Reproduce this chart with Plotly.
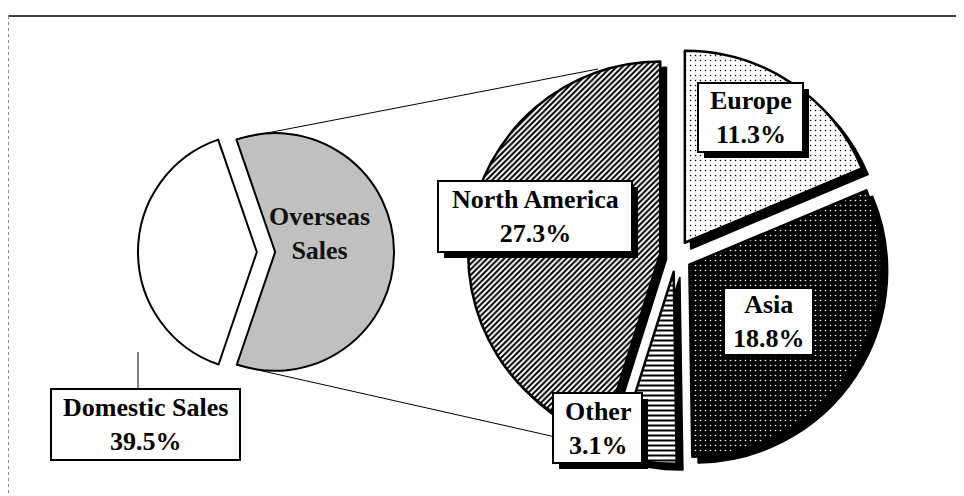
import plotly.graph_objects as go

W, H = 964, 496
OX, OY = 8, 8  # page offset of the plot div (default body margin)

# ---- data ----
main_labels = ["Overseas Sales", "Domestic Sales"]
main_values = [60.5, 39.5]
region_labels = ["Europe", "Asia", "Other", "North America"]
region_values = [11.3, 18.8, 3.1, 27.3]

# ---- styles ----
main_colors = ["#c0c0c0", "#ffffff"]
region_shapes = [".", ".", "-", "/"]
region_fg = ["#000000", "#ffffff", "#000000", "#000000"]
region_bg = ["#ffffff", "#000000", "#ffffff", "#ffffff"]
region_size = [5, 5, 5, 4]
region_solid = [0.07, 0.08, 0.4, 0.5]

FONT = "Liberation Serif"
FS = 26


def fx(x):
    return max(x - OX, 0.5) / W


def fy(y):
    return 1 - (y - OY) / H


left_dom = dict(x=[fx(138), fx(394)], y=[fy(380), fy(124)])
right_dom = dict(x=[fx(468), fx(884)], y=[fy(464), fy(48)])
SH = 6
right_dom_sh = dict(x=[fx(468 + SH), fx(884 + SH)], y=[fy(464 + SH), fy(48 + SH)])

fig = go.Figure()

# shadow for the right pie
fig.add_trace(go.Pie(
    labels=region_labels, values=region_values, sort=False,
    direction="clockwise", rotation=0, pull=0.083,
    domain=right_dom_sh, textinfo="none", hoverinfo="skip",
    marker=dict(colors=["#000000"] * len(region_values),
                line=dict(color="#000000", width=2)),
    showlegend=False,
))

# right pie (breakdown of overseas sales)
fig.add_trace(go.Pie(
    labels=region_labels, values=region_values, sort=False,
    direction="clockwise", rotation=0, pull=0.083,
    domain=right_dom, textinfo="none", hoverinfo="skip",
    marker=dict(
        colors=region_bg,
        line=dict(color="#000000", width=2.5),
        pattern=dict(shape=region_shapes, fgcolor=region_fg, bgcolor=region_bg,
                     size=region_size, solidity=region_solid, fillmode="replace"),
    ),
    showlegend=False,
))

# left pie (domestic vs overseas)
fig.add_trace(go.Pie(
    labels=main_labels, values=main_values, sort=False,
    direction="clockwise", rotation=-19, pull=0.077,
    domain=left_dom, textinfo="none", hoverinfo="skip",
    marker=dict(colors=main_colors, line=dict(color="#000000", width=2)),
    showlegend=False,
))

shapes = []
annotations = []

# frame
shapes.append(dict(type="line", xref="paper", yref="paper", x0=fx(6), x1=1.0,
                   y0=fy(16), y1=fy(16), line=dict(color="#000000", width=1.5), layer="above"))
shapes.append(dict(type="line", xref="paper", yref="paper", x0=fx(6), x1=fx(6),
                   y0=fy(16), y1=0, line=dict(color="#888888", width=1, dash="dot"), layer="above"))

# connector lines
shapes.append(dict(type="line", xref="paper", yref="paper", x0=fx(236), y0=fy(139),
                   x1=fx(598), y1=fy(69), line=dict(color="#000000", width=1), layer="above"))
shapes.append(dict(type="line", xref="paper", yref="paper", x0=fx(236), y0=fy(365),
                   x1=fx(600), y1=fy(447), line=dict(color="#000000", width=1), layer="above"))
shapes.append(dict(type="line", xref="paper", yref="paper", x0=fx(138), y0=fy(352),
                   x1=fx(138), y1=fy(389), line=dict(color="#000000", width=1), layer="above"))

# label boxes: (x0, y0, x1, y1, shadow)
all_labels = region_labels + ["Domestic Sales"]
all_values = region_values + [main_values[1]]
boxes = {
    "North America": (438, 181, 632, 252, True),
    "Europe": (698, 83, 803, 152, True),
    "Asia": (724, 288, 813, 355, False),
    "Other": (553, 393, 642, 463, True),
    "Domestic Sales": (51, 389, 240, 460, False),
}
for lab, val in zip(all_labels, all_values):
    x0, y0, x1, y1, sh = boxes[lab]
    if sh:
        shapes.append(dict(type="rect", xref="paper", yref="paper",
                           x0=fx(x0 + 6), x1=fx(x1 + 6), y0=fy(y1 + 6), y1=fy(y0 + 6),
                           fillcolor="#000000", line=dict(width=0), layer="above"))
    shapes.append(dict(type="rect", xref="paper", yref="paper",
                       x0=fx(x0), x1=fx(x1), y0=fy(y1), y1=fy(y0),
                       fillcolor="#ffffff", line=dict(color="#000000", width=2), layer="above"))
    annotations.append(dict(
        xref="paper", yref="paper", x=fx((x0 + x1) / 2), y=fy((y0 + y1) / 2),
        text=f"<b>{lab}<br>{val:.1f}%</b>", showarrow=False,
        xanchor="center", yanchor="middle",
        font=dict(family=FONT, size=FS, color="#000000"),
    ))

# overseas label (no box)
annotations.append(dict(
    xref="paper", yref="paper", x=fx(319), y=fy(234),
    text="<b>" + main_labels[0].replace(" ", "<br>") + "</b>", showarrow=False,
    xanchor="center", yanchor="middle",
    font=dict(family=FONT, size=FS, color="#111111"),
))

fig.update_layout(
    width=W, height=H,
    margin=dict(l=0, r=0, t=0, b=0),
    paper_bgcolor="#ffffff", plot_bgcolor="#ffffff",
    shapes=shapes, annotations=annotations,
    showlegend=False,
)

fig.write_html("out.html")
